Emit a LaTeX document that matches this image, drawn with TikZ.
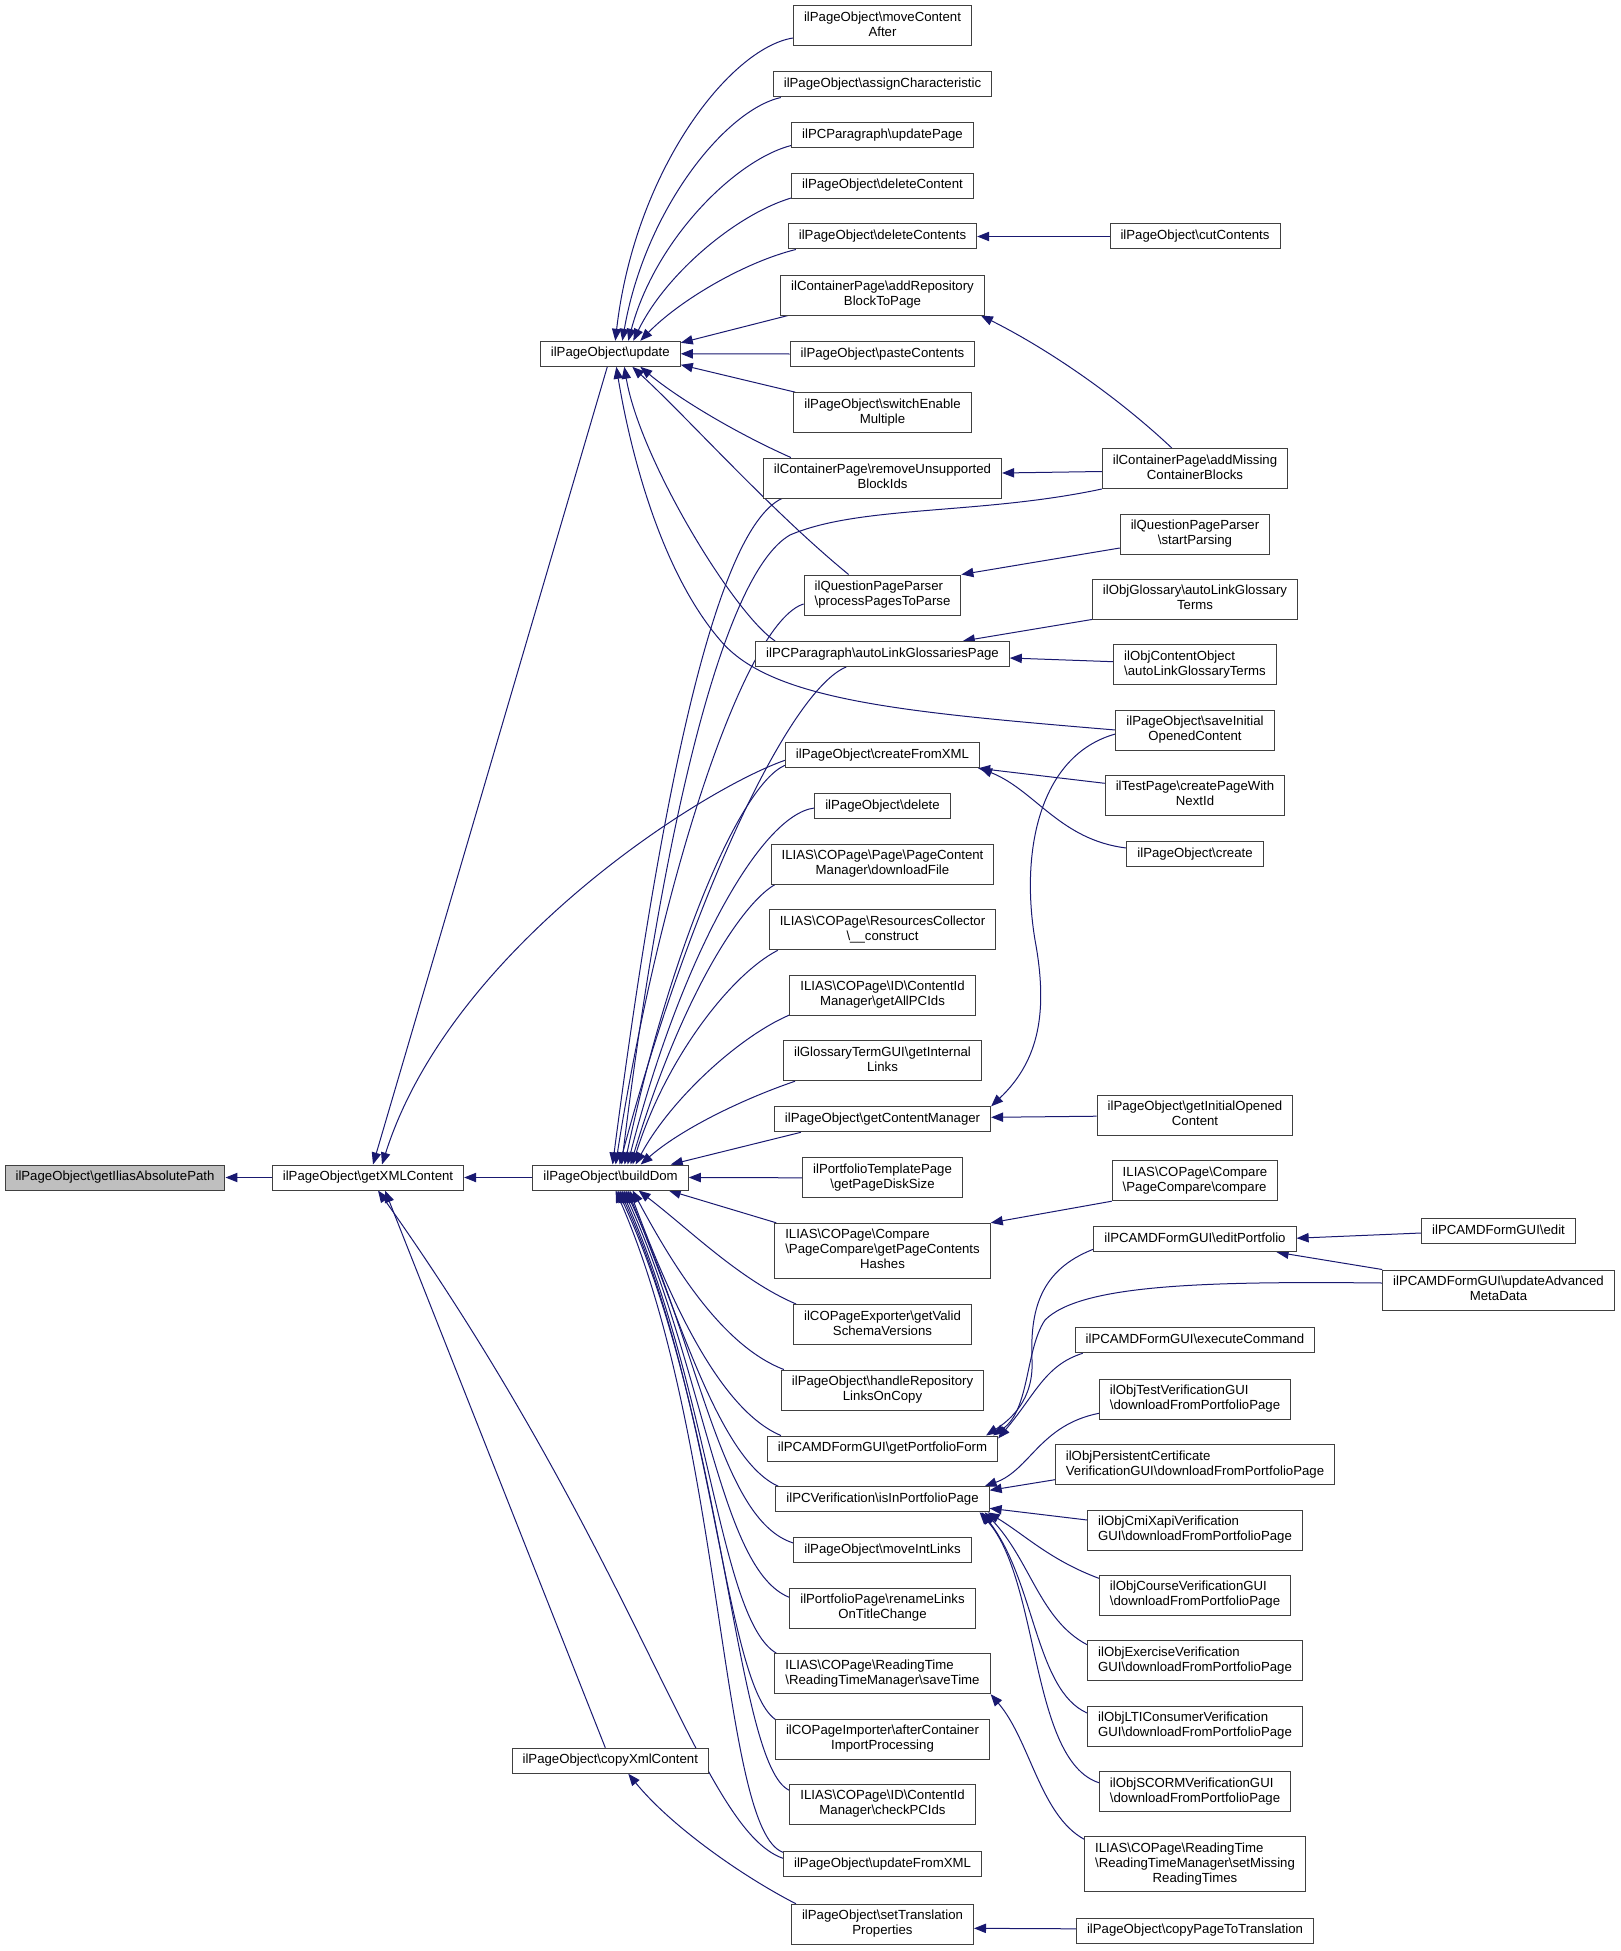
\documentclass[tikz,border=0pt]{standalone}
\usepackage{fontspec}
\setmainfont{Liberation Sans}
\usetikzlibrary{arrows.meta,calc}
\definecolor{navyc}{RGB}{25,25,112}
\definecolor{bordc}{RGB}{64,64,64}
\definecolor{rootc}{RGB}{191,191,191}
\newcommand\bksl{\textbackslash}
\newcommand\Cc[1]{\begin{tabular}{@{}c@{}}#1\end{tabular}}
\newcommand\Ll[1]{\begin{tabular}{@{}l@{}}#1\end{tabular}}
\newcommand\Mc[1]{\multicolumn{1}{@{}c@{}}{#1}}
\pgfdeclarelayer{bg}
\pgfsetlayers{bg,main}
\begin{document}
\begin{tikzpicture}[x=0.75pt,y=-0.75pt,
  box/.style={draw=bordc, line width=0.75pt, fill=white, inner xsep=7.9pt, inner ysep=3.75pt, font=\fontsize{9.9}{11.25}\selectfont},
  edge/.style={draw=navyc, line width=0.75pt, -{Triangle[length=9pt,width=7pt]}}]
\useasboundingbox (0,0) rectangle (1620,1951);
% ---- columns 1-3
\node[box,fill=rootc] (n0) at (115,1177.5) {\Cc{ilPageObject\bksl getIliasAbsolutePath}};
\node[box] (gx) at (368,1177.5) {\Cc{ilPageObject\bksl getXMLContent}};
\node[box] (up) at (610.3,353.8) {\Cc{ilPageObject\bksl update}};
\node[box] (bd) at (610.6,1177.5) {\Cc{ilPageObject\bksl buildDom}};
\node[box] (cx) at (610.3,1760.7) {\Cc{ilPageObject\bksl copyXmlContent}};
% ---- column 4
\node[box] (mca) at (882.5,26) {\Cc{ilPageObject\bksl moveContent\\After}};
\node[box] (ac) at (882.5,84.5) {\Cc{ilPageObject\bksl assignCharacteristic}};
\node[box] (upp) at (882.5,135.5) {\Cc{ilPCParagraph\bksl updatePage}};
\node[box] (dc) at (882.5,186) {\Cc{ilPageObject\bksl deleteContent}};
\node[box] (dcs) at (882.5,236.5) {\Cc{ilPageObject\bksl deleteContents}};
\node[box] (arb) at (882.5,295) {\Cc{ilContainerPage\bksl addRepository\\BlockToPage}};
\node[box] (pc) at (882.5,354) {\Cc{ilPageObject\bksl pasteContents}};
\node[box] (sem) at (882.5,412.7) {\Cc{ilPageObject\bksl switchEnable\\Multiple}};
\node[box] (rub) at (882.5,478) {\Cc{ilContainerPage\bksl removeUnsupported\\BlockIds}};
\node[box] (ppp) at (882.5,595) {\Ll{ilQuestionPageParser\\\bksl processPagesToParse}};
\node[box] (alg) at (882.5,654) {\Cc{ilPCParagraph\bksl autoLinkGlossariesPage}};
\node[box] (cfx) at (882.5,755.3) {\Cc{ilPageObject\bksl createFromXML}};
\node[box] (del) at (882.5,806) {\Cc{ilPageObject\bksl delete}};
\node[box] (dlf) at (882.5,864.3) {\Cc{ILIAS\bksl COPage\bksl Page\bksl PageContent\\Manager\bksl downloadFile}};
\node[box] (rc) at (882.5,929.8) {\Cc{ILIAS\bksl COPage\bksl ResourcesCollector\\\bksl\_\_construct}};
\node[box] (gap) at (882.5,995.3) {\Cc{ILIAS\bksl COPage\bksl ID\bksl ContentId\\Manager\bksl getAllPCIds}};
\node[box] (gil) at (882.5,1060.7) {\Cc{ilGlossaryTermGUI\bksl getInternal\\Links}};
\node[box] (gcm) at (882.5,1119.3) {\Cc{ilPageObject\bksl getContentManager}};
\node[box] (pds) at (882.5,1177.8) {\Cc{ilPortfolioTemplatePage\\\bksl getPageDiskSize}};
\node[box] (gpch) at (882.5,1250.8) {\Ll{ILIAS\bksl COPage\bksl Compare\\\bksl PageCompare\bksl getPageContents\\\Mc{Hashes}}};
\node[box] (gvs) at (882.5,1324.5) {\Cc{ilCOPageExporter\bksl getValid\\SchemaVersions}};
\node[box] (hrl) at (882.5,1390) {\Cc{ilPageObject\bksl handleRepository\\LinksOnCopy}};
\node[box] (gpf) at (882.5,1448.5) {\Cc{ilPCAMDFormGUI\bksl getPortfolioForm}};
\node[box] (iipp) at (882.5,1499.3) {\Cc{ilPCVerification\bksl isInPortfolioPage}};
\node[box] (mil) at (882.5,1550) {\Cc{ilPageObject\bksl moveIntLinks}};
\node[box] (rlt) at (882.5,1608.3) {\Cc{ilPortfolioPage\bksl renameLinks\\OnTitleChange}};
\node[box] (st) at (882.5,1673.7) {\Ll{ILIAS\bksl COPage\bksl ReadingTime\\\bksl ReadingTimeManager\bksl saveTime}};
\node[box] (acip) at (882.5,1739) {\Cc{ilCOPageImporter\bksl afterContainer\\ImportProcessing}};
\node[box] (cpci) at (882.5,1804.3) {\Cc{ILIAS\bksl COPage\bksl ID\bksl ContentId\\Manager\bksl checkPCIds}};
\node[box] (ufx) at (882.5,1864.3) {\Cc{ilPageObject\bksl updateFromXML}};
\node[box] (stp) at (882.5,1924.3) {\Cc{ilPageObject\bksl setTranslation\\Properties}};
% ---- column 5
\node[box] (cut) at (1195,236.5) {\Cc{ilPageObject\bksl cutContents}};
\node[box] (amc) at (1195,468.5) {\Cc{ilContainerPage\bksl addMissing\\ContainerBlocks}};
\node[box] (sp) at (1195,534) {\Cc{ilQuestionPageParser\\\bksl startParsing}};
\node[box] (og) at (1195,599) {\Cc{ilObjGlossary\bksl autoLinkGlossary\\Terms}};
\node[box] (oco) at (1195,664.7) {\Ll{ilObjContentObject\\\bksl autoLinkGlossaryTerms}};
\node[box] (sip) at (1195,730) {\Cc{ilPageObject\bksl saveInitial\\OpenedContent}};
\node[box] (cpw) at (1195,795.3) {\Cc{ilTestPage\bksl createPageWith\\NextId}};
\node[box] (cr) at (1195,854) {\Cc{ilPageObject\bksl create}};
\node[box] (gioc) at (1195,1115.2) {\Cc{ilPageObject\bksl getInitialOpened\\Content}};
\node[box] (pcc) at (1195,1180.7) {\Ll{ILIAS\bksl COPage\bksl Compare\\\bksl PageCompare\bksl compare}};
\node[box] (ep) at (1195,1239.2) {\Cc{ilPCAMDFormGUI\bksl editPortfolio}};
\node[box] (ec) at (1195,1340.3) {\Cc{ilPCAMDFormGUI\bksl executeCommand}};
\node[box] (tvg) at (1195,1399.3) {\Ll{ilObjTestVerificationGUI\\\bksl downloadFromPortfolioPage}};
\node[box] (pcv) at (1195,1464.7) {\Ll{ilObjPersistentCertificate\\VerificationGUI\bksl downloadFromPortfolioPage}};
\node[box] (cmx) at (1195,1530) {\Ll{ilObjCmiXapiVerification\\GUI\bksl downloadFromPortfolioPage}};
\node[box] (cvg) at (1195,1595.3) {\Ll{ilObjCourseVerificationGUI\\\bksl downloadFromPortfolioPage}};
\node[box] (exv) at (1195,1660.7) {\Ll{ilObjExerciseVerification\\GUI\bksl downloadFromPortfolioPage}};
\node[box] (lti) at (1195,1726) {\Ll{ilObjLTIConsumerVerification\\GUI\bksl downloadFromPortfolioPage}};
\node[box] (scorm) at (1195,1791.7) {\Ll{ilObjSCORMVerificationGUI\\\bksl downloadFromPortfolioPage}};
\node[box] (smrt) at (1195,1864.2) {\Ll{ILIAS\bksl COPage\bksl ReadingTime\\\bksl ReadingTimeManager\bksl setMissing\\\Mc{ReadingTimes}}};
\node[box] (cpt) at (1195,1930.8) {\Cc{ilPageObject\bksl copyPageToTranslation}};
% ---- column 6
\node[box] (edit) at (1498.5,1231) {\Cc{ilPCAMDFormGUI\bksl edit}};
\node[box] (uamd) at (1498.5,1290) {\Cc{ilPCAMDFormGUI\bksl updateAdvanced\\MetaData}};

\begin{pgfonlayer}{bg}
% root chain
\draw[edge] (gx.west) -- (n0.east);
\draw[edge] (bd.west) -- (gx.east);
\draw[edge] ($(up.south)+(-3,0)$) -- ($(gx.north)+(5,0)$);
\draw[edge] ($(cfx.west)+(0,5)$) .. controls (700,790) and (450,950) .. ($(gx.north)+(14,0)$);
\draw[edge] ($(cx.north)+(-5,0)$) -- ($(gx.south)+(17,0)$);
\draw[edge] ($(ufx.west)+(0,-6)$) .. controls (700,1830) and (640,1560) .. ($(gx.south)+(10,0)$);
% into update
\draw[edge] ($(mca.west)+(0,12)$) .. controls (730,48) and (635,170) .. ($(up.north)+(5,0)$);
\draw[edge] ($(ac.south west)+(8,0)$) .. controls (725,110) and (645,210) .. ($(up.north)+(12,0)$);
\draw[edge] ($(upp.west)+(0,10)$) .. controls (735,160) and (655,240) .. ($(up.north)+(18,0)$);
\draw[edge] ($(dc.south west)+(0,-1)$) .. controls (735,215) and (665,275) .. ($(up.north)+(23,0)$);
\draw[edge] ($(dcs.south west)+(8,0)$) .. controls (745,262) and (680,300) .. ($(up.north)+(30,0)$);
\draw[edge] ($(arb.south west)+(8,0)$) -- ($(up.east)+(0,-11)$);
\draw[edge] (pc.west) -- (up.east);
\draw[edge] ($(sem.north west)+(2,0)$) -- ($(up.east)+(0,11)$);
\draw[edge] ($(rub.north west)+(28,0)$) .. controls (740,435) and (680,400) .. ($(up.south)+(30,0)$);
\draw[edge] ($(ppp.north west)+(45,0)$) .. controls (770,510) and (690,420) .. ($(up.south)+(22,0)$);
\draw[edge] ($(alg.north west)+(20,0)$) .. controls (735,615) and (640,460) .. ($(up.south)+(14,0)$);
\draw[edge] (sip.west) .. controls (900,712) and (770,700) .. (720,640) .. controls (660,570) and (630,450) .. ($(up.south)+(6,0)$);
% into buildDom (from above)
\draw[edge] ($(rub.south west)+(19,0)$) .. controls (715,530) and (660,800) .. ($(bd.north)+(2,0)$);
\draw[edge] (amc.south west) .. controls (980,515) and (860,505) .. (790,535) .. controls (720,575) and (660,850) .. ($(bd.north)+(11,0)$);
\draw[edge] ($(ppp.west)+(0,9)$) .. controls (745,622) and (660,880) .. ($(bd.north)+(5,0)$);
\draw[edge] ($(alg.south west)+(91,0)$) .. controls (790,690) and (690,900) .. ($(bd.north)+(9,0)$);
\draw[edge] ($(cfx.west)+(0,10)$) .. controls (740,785) and (670,950) .. ($(bd.north)+(14,0)$);
\draw[edge] ($(del.west)+(0,2)$) .. controls (760,815) and (680,960) .. ($(bd.north)+(17,0)$);
\draw[edge] ($(dlf.south west)+(4,0)$) .. controls (740,905) and (680,1000) .. ($(bd.north)+(20,0)$);
\draw[edge] ($(rc.south west)+(9,0)$) .. controls (730,975) and (665,1060) .. ($(bd.north)+(22,0)$);
\draw[edge] ($(gap.south west)+(3,-2)$) .. controls (740,1035) and (670,1100) .. ($(bd.north)+(25,0)$);
\draw[edge] ($(gil.south west)+(12,0)$) .. controls (740,1100) and (680,1130) .. ($(bd.north)+(30,0)$);
\draw[edge] ($(gcm.south west)+(27,0)$) -- ($(bd.north east)+(-18,0)$);
\draw[edge] (pds.west) -- (bd.east);
% into buildDom (from below)
\draw[edge] ($(gpch.north west)+(2,0)$) -- ($(bd.south east)+(-20,0)$);
\draw[edge] ($(gvs.north west)+(3,0)$) .. controls (740,1280) and (690,1230) .. ($(bd.south)+(28,0)$);
\draw[edge] ($(hrl.north west)+(3,0)$) .. controls (720,1345) and (670,1260) .. ($(bd.south)+(22,0)$);
\draw[edge] ($(gpf.north west)+(14,0)$) .. controls (720,1410) and (670,1300) .. ($(bd.south)+(19,0)$);
\draw[edge] ($(iipp.north west)+(3,0)$) .. controls (720,1460) and (680,1320) .. ($(bd.south)+(17,0)$);
\draw[edge] ($(mil.west)+(0,-7)$) .. controls (720,1520) and (700,1350) .. ($(bd.south)+(15,0)$);
\draw[edge] ($(rlt.west)+(0,-11)$) .. controls (720,1570) and (705,1370) .. ($(bd.south)+(13,0)$);
\draw[edge] ($(st.north west)+(2,0)$) .. controls (720,1620) and (710,1390) .. ($(bd.south)+(11,0)$);
\draw[edge] ($(acip.north west)+(2,2)$) .. controls (725,1690) and (715,1400) .. ($(bd.south)+(9,0)$);
\draw[edge] ($(cpci.west)+(0,-14)$) .. controls (735,1765) and (725,1420) .. ($(bd.south)+(7,0)$);
\draw[edge] ($(ufx.west)+(0,-12)$) .. controls (720,1830) and (725,1440) .. ($(bd.south)+(5,0)$);
% copyXmlContent
\draw[edge] ($(stp.north west)+(5,0)$) .. controls (740,1875) and (670,1825) .. ($(cx.south)+(18,0)$);
% column 5 -> column 4
\draw[edge] (cut.west) -- (dcs.east);
\draw[edge] ($(amc.north west)+(70,0)$) .. controls (1110,390) and (1040,345) .. ($(arb.south east)+(-4,0)$);
\draw[edge] ($(amc.west)+(0,3)$) -- ($(rub.east)+(0,-5)$);
\draw[edge] ($(sp.west)+(0,14)$) -- (ppp.north east);
\draw[edge] (og.south west) -- ($(alg.north east)+(-47,0)$);
\draw[edge] ($(oco.west)+(0,-3)$) -- ($(alg.east)+(0,4)$);
\draw[edge] ($(cpw.west)+(0,-12)$) -- ($(cfx.south east)+(-2,0)$);
\draw[edge] ($(cr.west)+(0,-6)$) .. controls (1060,840) and (1035,790) .. (cfx.south east);
\draw[edge] ($(sip.west)+(0,4)$) .. controls (1040,755) and (1020,850) .. (1035,940) .. controls (1048,1010) and (1040,1060) .. (gcm.north east);
\draw[edge] ($(gioc.west)+(0,1)$) -- ($(gcm.east)+(0,-2)$);
\draw[edge] (pcc.south west) -- (gpch.north east);
\draw[edge] ($(ep.west)+(0,10)$) .. controls (1040,1270) and (1030,1310) .. (1032,1360) .. controls (1034,1400) and (1010,1420) .. ($(gpf.north east)+(-12,0)$);
\draw[edge] ($(uamd.west)+(0,-7)$) .. controls (1200,1281) and (1080,1285) .. (1045,1320) .. controls (1025,1350) and (1030,1410) .. ($(gpf.north east)+(-5,0)$);
\draw[edge] ($(ec.south west)+(8,0)$) .. controls (1045,1365) and (1035,1395) .. ($(gpf.north east)+(0,3)$);
\draw[edge] ($(tvg.west)+(0,14)$) .. controls (1040,1425) and (1030,1470) .. ($(iipp.north east)+(-5,0)$);
\draw[edge] ($(pcv.west)+(0,15)$) -- ($(iipp.east)+(0,-9)$);
\draw[edge] ($(cmx.west)+(0,-10)$) -- ($(iipp.east)+(0,9)$);
\draw[edge] ($(cvg.west)+(0,-17)$) .. controls (1050,1560) and (1025,1535) .. ($(iipp.south east)+(-2,0)$);
\draw[edge] ($(exv.west)+(0,-16)$) .. controls (1040,1620) and (1030,1560) .. ($(iipp.south east)+(-5,0)$);
\draw[edge] ($(lti.west)+(0,-13)$) .. controls (1035,1690) and (1035,1580) .. ($(iipp.south east)+(-8,0)$);
\draw[edge] ($(scorm.west)+(0,-9)$) .. controls (1030,1760) and (1040,1580) .. ($(iipp.south east)+(-10,0)$);
\draw[edge] ($(smrt.north west)+(0,3)$) .. controls (1040,1815) and (1030,1740) .. (st.south east);
\draw[edge] ($(cpt.west)+(0,-2)$) -- ($(stp.east)+(0,4)$);
% column 6 -> column 5
\draw[edge] ($(edit.west)+(0,2)$) -- ($(ep.east)+(0,-1)$);
\draw[edge] (uamd.north west) -- ($(ep.south east)+(-20,0)$);
\end{pgfonlayer}
\end{tikzpicture}
\end{document}
